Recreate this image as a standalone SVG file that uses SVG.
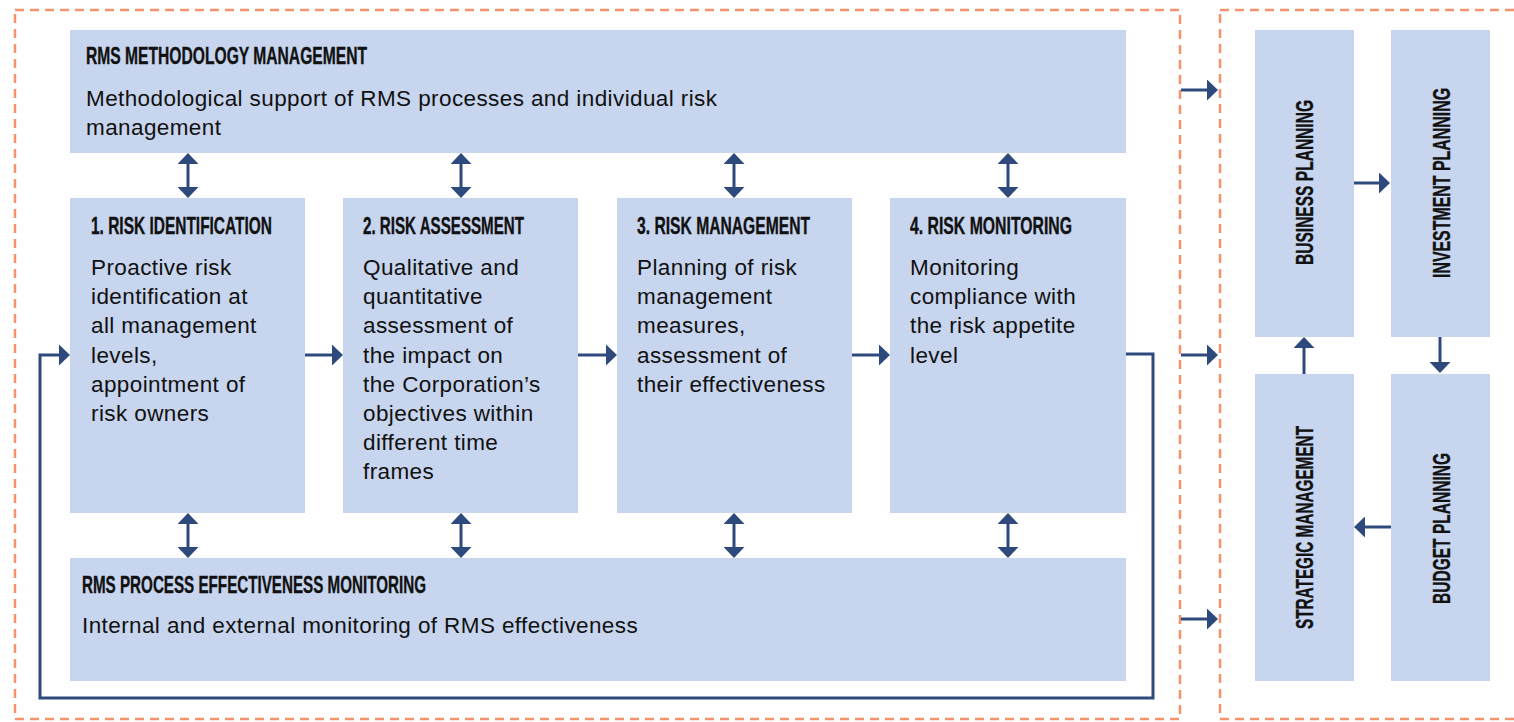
<svg xmlns="http://www.w3.org/2000/svg" width="1514" height="722" viewBox="0 0 1514 722">
<style>
.box{fill:#c7d5ee}
.frame{fill:none;stroke:#f4936c;stroke-width:2.5;stroke-dasharray:9 6}
.ttl{font-family:"Liberation Sans",Arial,sans-serif;font-weight:bold;font-size:23px;fill:#111;stroke:#111;stroke-width:0.35}
.txt{font-family:"Liberation Sans",Arial,sans-serif;font-size:22.5px;letter-spacing:0.4px;fill:#111}
.con{fill:none;stroke:#2e4a7d;stroke-width:3}
</style>
<defs>
<marker id="ah" markerUnits="userSpaceOnUse" markerWidth="12" markerHeight="21" viewBox="0 0 11 21" refX="0" refY="10.5" orient="auto-start-reverse">
<path d="M0,0 L11,10.5 L0,21 z" fill="#2e4a7d"/>
</marker>
</defs>
<rect class="frame" x="15" y="10" width="1165" height="709"/>
<rect class="frame" x="1220" y="10" width="310" height="709"/>

<g id="methodology">
<rect class="box" x="70" y="30" width="1056" height="123"/>
<text class="ttl" x="86" y="64" textLength="281" lengthAdjust="spacingAndGlyphs">RMS METHODOLOGY MANAGEMENT</text>
<text class="txt" x="86" y="106">Methodological support of RMS processes and individual risk</text>
<text class="txt" x="86" y="135">management</text>
</g>

<g id="identification">
<rect class="box" x="70" y="198" width="235" height="315"/>
<text class="ttl" x="91" y="234" textLength="181" lengthAdjust="spacingAndGlyphs">1. RISK IDENTIFICATION</text>
<text class="txt" x="91" y="275">Proactive risk</text>
<text class="txt" x="91" y="304.2">identification at</text>
<text class="txt" x="91" y="333.4">all management</text>
<text class="txt" x="91" y="362.6">levels,</text>
<text class="txt" x="91" y="391.8">appointment of</text>
<text class="txt" x="91" y="421">risk owners</text>
</g>

<g id="assessment">
<rect class="box" x="343" y="198" width="235" height="315"/>
<text class="ttl" x="363" y="234" textLength="161" lengthAdjust="spacingAndGlyphs">2. RISK ASSESSMENT</text>
<text class="txt" x="363" y="275">Qualitative and</text>
<text class="txt" x="363" y="304.2">quantitative</text>
<text class="txt" x="363" y="333.4">assessment of</text>
<text class="txt" x="363" y="362.6">the impact on</text>
<text class="txt" x="363" y="391.8">the Corporation’s</text>
<text class="txt" x="363" y="421">objectives within</text>
<text class="txt" x="363" y="450.2">different time</text>
<text class="txt" x="363" y="479.4">frames</text>
</g>

<g id="management">
<rect class="box" x="617" y="198" width="235" height="315"/>
<text class="ttl" x="637" y="234" textLength="173" lengthAdjust="spacingAndGlyphs">3. RISK MANAGEMENT</text>
<text class="txt" x="637" y="275">Planning of risk</text>
<text class="txt" x="637" y="304.2">management</text>
<text class="txt" x="637" y="333.4">measures,</text>
<text class="txt" x="637" y="362.6">assessment of</text>
<text class="txt" x="637" y="391.8">their effectiveness</text>
</g>

<g id="monitoring">
<rect class="box" x="890" y="198" width="236" height="315"/>
<text class="ttl" x="910" y="234" textLength="162" lengthAdjust="spacingAndGlyphs">4. RISK MONITORING</text>
<text class="txt" x="910" y="275">Monitoring</text>
<text class="txt" x="910" y="304.2">compliance with</text>
<text class="txt" x="910" y="333.4">the risk appetite</text>
<text class="txt" x="910" y="362.6">level</text>
</g>

<g id="effectiveness">
<rect class="box" x="70" y="558" width="1056" height="123"/>
<text class="ttl" x="82" y="593" textLength="344" lengthAdjust="spacingAndGlyphs">RMS PROCESS EFFECTIVENESS MONITORING</text>
<text class="txt" x="82" y="633">Internal and external monitoring of RMS effectiveness</text>
</g>

<g id="business">
<rect class="box" x="1255" y="30" width="99" height="307"/>
<text class="ttl" transform="translate(1313,182.5) rotate(-90)" text-anchor="middle" textLength="165" lengthAdjust="spacingAndGlyphs">BUSINESS PLANNING</text>
</g>
<g id="investment">
<rect class="box" x="1391" y="30" width="99" height="307"/>
<text class="ttl" transform="translate(1450,183) rotate(-90)" text-anchor="middle" textLength="190" lengthAdjust="spacingAndGlyphs">INVESTMENT PLANNING</text>
</g>
<g id="strategic">
<rect class="box" x="1255" y="374" width="99" height="307"/>
<text class="ttl" transform="translate(1313,527.5) rotate(-90)" text-anchor="middle" textLength="203" lengthAdjust="spacingAndGlyphs">STRATEGIC MANAGEMENT</text>
</g>
<g id="budget">
<rect class="box" x="1391" y="374" width="99" height="307"/>
<text class="ttl" transform="translate(1450,528.5) rotate(-90)" text-anchor="middle" textLength="151" lengthAdjust="spacingAndGlyphs">BUDGET PLANNING</text>
</g>

<g id="connectors" class="con">
<path d="M188,164 V187" marker-start="url(#ah)" marker-end="url(#ah)"/>
<path d="M461,164 V187" marker-start="url(#ah)" marker-end="url(#ah)"/>
<path d="M734,164 V187" marker-start="url(#ah)" marker-end="url(#ah)"/>
<path d="M1008,164 V187" marker-start="url(#ah)" marker-end="url(#ah)"/>
<path d="M188,524 V547" marker-start="url(#ah)" marker-end="url(#ah)"/>
<path d="M461,524 V547" marker-start="url(#ah)" marker-end="url(#ah)"/>
<path d="M734,524 V547" marker-start="url(#ah)" marker-end="url(#ah)"/>
<path d="M1008,524 V547" marker-start="url(#ah)" marker-end="url(#ah)"/>
<path d="M305,355 H332" marker-end="url(#ah)"/>
<path d="M578,355 H606" marker-end="url(#ah)"/>
<path d="M852,355 H879" marker-end="url(#ah)"/>
<path d="M1126,354 H1153 V698 H40 V355 H59" marker-end="url(#ah)"/>
<path d="M1181,90 H1207" marker-end="url(#ah)"/>
<path d="M1181,355 H1207" marker-end="url(#ah)"/>
<path d="M1181,619 H1207" marker-end="url(#ah)"/>
<path d="M1354,183 H1379" marker-end="url(#ah)"/>
<path d="M1440,337 V362" marker-end="url(#ah)"/>
<path d="M1391,527 H1365" marker-end="url(#ah)"/>
<path d="M1304,374 V348" marker-end="url(#ah)"/>
</g>
</svg>
